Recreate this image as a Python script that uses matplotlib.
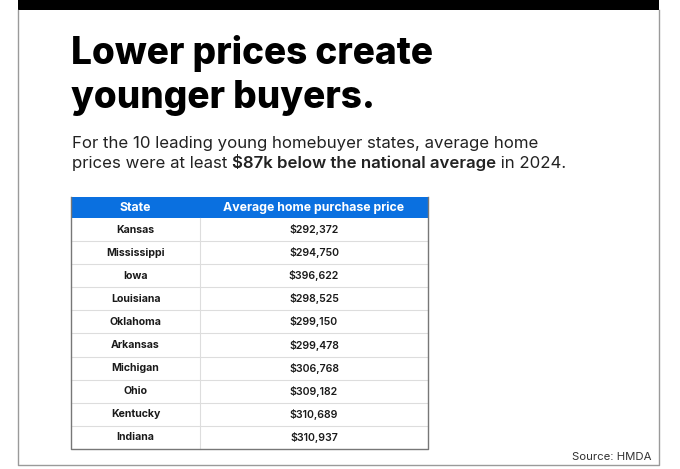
import matplotlib
matplotlib.use("Agg")
import matplotlib.pyplot as plt
from matplotlib.patches import Rectangle

# data
states = ["Kansas", "Mississippi", "Iowa", "Louisiana", "Oklahoma",
          "Arkansas", "Michigan", "Ohio", "Kentucky", "Indiana"]
prices = ["$292,372", "$294,750", "$396,622", "$298,525", "$299,150",
          "$299,478", "$306,768", "$309,182", "$310,689", "$310,937"]
col_heads = ["State", "Average home purchase price"]

W, H = 680, 469
BLUE = "#0a70e0"
FONT = "Inter"

fig = plt.figure(figsize=(W / 100, H / 100), dpi=100)
ax = fig.add_axes([0, 0, 1, 1])
ax.set_xlim(0, W)
ax.set_ylim(H, 0)
ax.axis("off")

# frame of the card
ax.add_patch(Rectangle((18, 0), 641, 10, color="black", lw=0))
ax.plot([18, 18, 659, 659], [10, 465, 465, 10], color="#9a9a9a", lw=1)

# title
ax.text(71, 64, "Lower prices create", fontsize=26.6, fontweight="heavy",
        family=FONT, color="black", va="baseline")
ax.text(71, 108, "younger buyers.", fontsize=26.6, fontweight="heavy",
        family=FONT, color="black", va="baseline")

# subtitle, second line mixed weight
sub_kw = dict(fontsize=12.1, family=FONT, color="#222222", va="baseline")
ax.text(72, 148, "For the 10 leading young homebuyer states, average home", **sub_kw)
fig.canvas.draw()
r = fig.canvas.get_renderer()
x = 72
for part, wt in [("prices were at least ", "normal"),
                 ("$87k below the national average", "semibold"),
                 (" in 2024.", "normal")]:
    t = ax.text(x, 168, part, fontweight=wt, **sub_kw)
    bb = t.get_window_extent(renderer=r)
    x += bb.width  # 1 px == 1 data unit here

# table
tx0, tx1, tdiv = 71, 428, 200
top, head_h, row_h = 197, 21, 23.1
ax.add_patch(Rectangle((tx0, top), tx1 - tx0, head_h, color=BLUE, lw=0))
ax.text((tx0 + tdiv) / 2, top + head_h / 2 + 0.5, col_heads[0], color="white",
        fontsize=8.9, fontweight="bold", family=FONT, ha="center", va="center")
ax.text((tdiv + tx1) / 2, top + head_h / 2 + 0.5, col_heads[1], color="white",
        fontsize=8.9, fontweight="bold", family=FONT, ha="center", va="center")

y0 = top + head_h
bottom = y0 + row_h * len(states)
for i, (s, p) in enumerate(zip(states, prices)):
    yc = y0 + row_h * (i + 0.5)
    ax.text((tx0 + tdiv) / 2, yc, s, fontsize=7.6, fontweight="bold",
            family=FONT, color="#1a1a1a", ha="center", va="center")
    ax.text((tdiv + tx1) / 2, yc, p, fontsize=7.6, fontweight="semibold",
            family=FONT, color="#1a1a1a", ha="center", va="center")
    if i > 0:
        yl = y0 + row_h * i
        ax.plot([tx0, tx1], [yl, yl], color="#dddddd", lw=0.8)
ax.plot([tdiv, tdiv], [y0, bottom], color="#dddddd", lw=0.8)
ax.plot([tx0, tx0, tx1, tx1], [top, bottom, bottom, top], color="#777777", lw=1)

ax.text(651, 457, "Source: HMDA", fontsize=8.2, family=FONT, color="#333333",
        ha="right", va="center")

fig.savefig("out.png", dpi=100, facecolor="white")
